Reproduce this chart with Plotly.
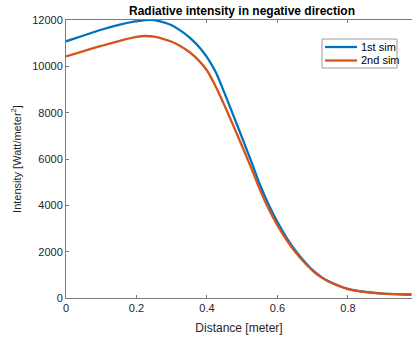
import plotly.graph_objects as go

x = [0, 0.05, 0.1, 0.15, 0.2, 0.225, 0.25, 0.275, 0.3, 0.325, 0.35, 0.375, 0.4, 0.425, 0.45, 0.475,
     0.5, 0.525, 0.55, 0.575, 0.6, 0.625, 0.65, 0.675, 0.7, 0.725, 0.75, 0.8, 0.85, 0.9, 0.95, 0.98]
sim1 = [11080, 11330, 11580, 11790, 11950, 12000, 12000, 11910, 11770, 11540, 11250, 10880, 10400, 9740, 8830, 7870,
        6900, 5920, 4900, 4030, 3280, 2620, 2060, 1600, 1200, 900, 690, 390, 260, 190, 160, 152]
sim2 = [10430, 10660, 10880, 11090, 11270, 11310, 11280, 11190, 11060, 10870, 10620, 10280, 9820, 9120, 8300, 7430,
        6540, 5630, 4680, 3840, 3130, 2520, 1990, 1550, 1170, 880, 670, 385, 255, 188, 158, 150]
names = ["1st sim", "2nd sim"]
colors = ["#0072BD", "#D95319"]
xticks = [0, 0.2, 0.4, 0.6, 0.8]
yticks = [0, 2000, 4000, 6000, 8000, 10000, 12000]

L, T, W, H = 66, 20, 346, 278
def px(xp): return (xp - L) / W
def py(yp): return (T + H - yp) / H

fig = go.Figure()
for ys, n, c in zip([sim1, sim2], names, colors):
    fig.add_trace(go.Scatter(x=x, y=ys, mode="lines", name=n, showlegend=False,
                             line=dict(color=c, width=2.3, shape="spline", smoothing=0.8)))

# legend drawn manually to match compact MATLAB style
fig.add_shape(type="rect", xref="paper", yref="paper", x0=px(322), x1=px(397), y0=py(68), y1=py(39),
              line=dict(color="#9a9a9a", width=1), fillcolor="white", layer="above")
for i, (n, c) in enumerate(zip(names, colors)):
    yy = 47 + i * 13.5
    fig.add_shape(type="line", xref="paper", yref="paper", x0=px(325), x1=px(357), y0=py(yy), y1=py(yy),
                  line=dict(color=c, width=2.3), layer="above")
    fig.add_annotation(xref="paper", yref="paper", x=px(359), y=py(yy), text=n, showarrow=False,
                       xanchor="left", yanchor="middle", font=dict(size=11, color="#000000"))

font = "Liberation Sans, Arial, sans-serif"
fig.update_layout(
    width=412, height=338,
    margin=dict(l=L, r=412 - L - W, t=T, b=338 - T - H),
    plot_bgcolor="white", paper_bgcolor="white",
    font=dict(family=font, size=11, color="#262626"),
    title=dict(text="<b>Radiative intensity in negative direction</b>", x=242 / 412, xanchor="center",
               y=1 - 11 / 338, yanchor="middle", font=dict(size=12, color="#000000")),
    xaxis=dict(range=[0, 0.9816], tickvals=xticks, ticktext=[f"{v:g}" for v in xticks],
               showline=True, linecolor="#7a7a7a", linewidth=1, mirror="ticks",
               ticks="inside", ticklen=3, tickcolor="#7a7a7a", showgrid=False, zeroline=False,
               title=dict(text="Distance [meter]", font=dict(size=12), standoff=10)),
    yaxis=dict(range=[0, 12000], tickvals=yticks, ticktext=[str(v) for v in yticks],
               showline=True, linecolor="#7a7a7a", linewidth=1,
               ticks="inside", ticklen=3, tickcolor="#7a7a7a", showgrid=False, zeroline=False,
               title=dict(text="Intensity [Watt/meter<sup>2</sup>]", font=dict(size=11), standoff=8)),
    showlegend=False,
)
fig.write_html("out.html")
